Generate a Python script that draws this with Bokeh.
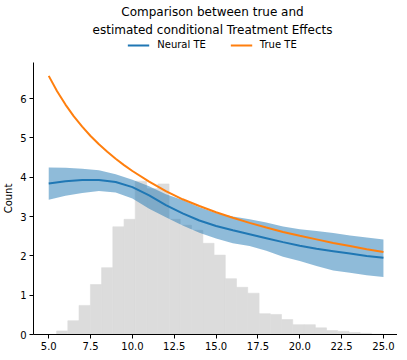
from bokeh.plotting import figure
from bokeh.layouts import column
from bokeh.models import Range1d, FixedTicker, PrintfTickFormatter, Title, Legend, LegendItem
from bokeh.embed import file_html
from bokeh.resources import INLINE

# Histogram of the covariate ("Count")
bin_edges = [5.47, 6.14, 6.81, 7.49, 8.16, 8.83, 9.50, 10.17, 10.85, 11.52, 12.19, 12.86,
             13.53, 14.21, 14.88, 15.55, 16.22, 16.89, 17.57, 18.24, 18.91, 19.58, 20.25,
             20.93, 21.60, 22.27, 22.94, 23.61, 24.29, 24.96]
bin_counts = [0.09, 0.35, 0.74, 1.27, 1.70, 2.74, 2.93, 3.90, 3.71, 3.83, 2.93, 2.78,
              2.65, 2.32, 2.02, 1.42, 1.20, 1.05, 0.53, 0.51, 0.38, 0.25, 0.25, 0.17,
              0.10, 0.08, 0.05, 0.03, 0.01]

# Neural TE estimate with its band
te_x = [5, 6, 7, 8, 9, 10, 11, 12, 13, 14, 15, 16, 17, 18, 19, 20, 21, 22, 23, 24, 25]
neural_te = [3.84, 3.90, 3.93, 3.93, 3.88, 3.75, 3.54, 3.29, 3.08, 2.90, 2.76, 2.65,
             2.55, 2.45, 2.35, 2.26, 2.18, 2.12, 2.06, 2.00, 1.95]
neural_upper = [4.25, 4.24, 4.22, 4.18, 4.08, 3.94, 3.77, 3.57, 3.42, 3.24, 3.09, 3.00,
                2.93, 2.85, 2.75, 2.68, 2.63, 2.58, 2.52, 2.47, 2.42]
neural_lower = [3.43, 3.53, 3.60, 3.65, 3.61, 3.46, 3.20, 2.98, 2.77, 2.59, 2.44, 2.32,
                2.25, 2.13, 1.98, 1.87, 1.74, 1.63, 1.57, 1.51, 1.46]

# True TE
true_x = [5, 5.5, 6, 6.5, 7, 7.5, 8, 8.5, 9, 9.5, 10, 11, 12, 13, 14, 15, 16, 17, 18,
          19, 20, 21, 22, 23, 24, 25]
true_te = [6.58, 6.19, 5.85, 5.55, 5.29, 5.05, 4.84, 4.65, 4.47, 4.31, 4.16, 3.89, 3.65,
           3.44, 3.27, 3.11, 2.97, 2.84, 2.72, 2.61, 2.51, 2.42, 2.33, 2.25, 2.17, 2.10]

x_ticks = [5.0, 7.5, 10.0, 12.5, 15.0, 17.5, 20.0, 22.5, 25.0]
y_ticks = [0, 1, 2, 3, 4, 5, 6]

title_line1 = "Comparison between true and"
title_line2 = "estimated conditional Treatment Effects"
series_names = ["Neural TE", "True TE"]

FONT = "DejaVu Sans"
BLUE, ORANGE = "#1f77b4", "#ff7f0e"
FRAME_W, FRAME_H = 364, 272

# ---------- main chart ----------
p = figure(frame_width=FRAME_W, frame_height=FRAME_H,
           x_range=Range1d(4.09, 25.84), y_range=Range1d(0, 6.92),
           output_backend="svg", toolbar_location=None,
           min_border_left=27, min_border_right=0, min_border_top=0, min_border_bottom=0)
p.outline_line_color = None
p.xgrid.visible = False
p.ygrid.visible = False

p.quad(left=bin_edges[:-1], right=bin_edges[1:], bottom=0, top=bin_counts,
       fill_color="#dcdcdc", line_color="#dcdcdc", line_width=0.6)
p.varea(x=te_x, y1=neural_lower, y2=neural_upper, fill_color=BLUE, fill_alpha=0.5)
p.line(te_x, neural_te, line_color=BLUE, line_width=2)
p.line(true_x, true_te, line_color=ORANGE, line_width=2)

p.xaxis.ticker = FixedTicker(ticks=x_ticks)
p.xaxis.formatter = PrintfTickFormatter(format="%.1f")
p.yaxis.ticker = FixedTicker(ticks=y_ticks)
for ax in (p.xaxis[0], p.yaxis[0]):
    ax.axis_line_color = "black"
    ax.axis_line_width = 1
    ax.major_tick_line_color = "black"
    ax.major_tick_in = 0
    ax.major_tick_out = 4
    ax.minor_tick_line_color = None
    ax.major_label_text_font = FONT
    ax.major_label_text_font_size = "10px"
    ax.major_label_text_color = "black"
    ax.major_label_standoff = 3
p.yaxis.axis_label = "Count"
p.yaxis.axis_label_text_font = FONT
p.yaxis.axis_label_text_font_size = "10px"
p.yaxis.axis_label_text_font_style = "normal"
p.yaxis.axis_label_text_color = "black"
p.yaxis.axis_label_standoff = 3

# ---------- header: title + legend ----------
h = figure(width=FRAME_W + 27, height=62, x_range=Range1d(0, 1), y_range=Range1d(0, 1),
           x_axis_type=None, y_axis_type=None, output_backend="svg", toolbar_location=None,
           min_border_left=27, min_border_right=0, min_border_top=0, min_border_bottom=0)
h.outline_line_color = None
h.xgrid.visible = False
h.ygrid.visible = False
# legend proxies (same series; they lie outside this header's ranges)
lr1 = h.line(te_x, neural_te, line_color=BLUE, line_width=2)
lr2 = h.line(true_x, true_te, line_color=ORANGE, line_width=2)
legend = Legend(items=[LegendItem(label=series_names[0], renderers=[lr1]),
                       LegendItem(label=series_names[1], renderers=[lr2])],
                orientation="horizontal", location="top_center",
                border_line_color=None, background_fill_alpha=0,
                label_text_font=FONT, label_text_font_size="10px", label_text_color="black",
                glyph_width=22, glyph_height=10, label_standoff=8, spacing=24,
                padding=2, margin=3)
h.add_layout(legend)
t2 = Title(text=title_line2, align="center", text_font=FONT, text_font_size="12px",
           text_font_style="normal", text_color="black", standoff=0, offset=0)
h.add_layout(t2, "above")
t1 = Title(text=title_line1, align="center", text_font=FONT, text_font_size="12px",
           text_font_style="normal", text_color="black", standoff=4, offset=0)
h.add_layout(t1, "above")

layout = column(h, p, spacing=0)
open("out.html", "w").write(file_html(layout, INLINE))
